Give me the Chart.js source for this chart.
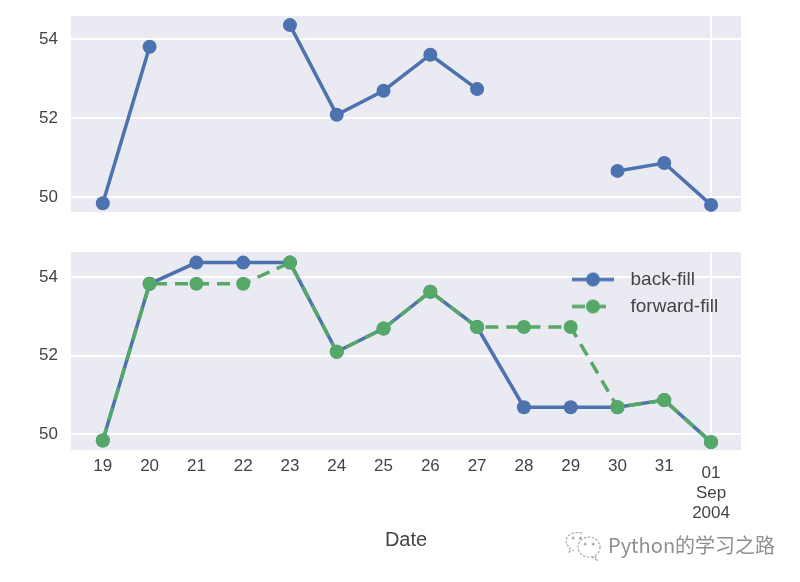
<!DOCTYPE html>
<html>
<head>
<meta charset="utf-8">
<script src="https://cdn.jsdelivr.net/npm/chart.js@4"></script>
<style>
html,body{margin:0;padding:0;background:#fff;width:800px;height:582px;overflow:hidden}
canvas{position:absolute;left:0;filter:blur(0.5px)}
#wm{position:absolute;left:608px;top:531px;font:20px "Noto Sans CJK SC","Noto Sans",sans-serif;color:#8f8f8f;line-height:27px;white-space:nowrap;filter:blur(0.4px)}
#ic{position:absolute;left:565px;top:529px;filter:blur(0.4px)}
</style>
</head>
<body>
<canvas id="top"></canvas>
<canvas id="bot"></canvas>
<svg id="ic" width="38" height="32" viewBox="0 0 38 32" fill="none" stroke="#a8a8a8" stroke-width="1.2" stroke-dasharray="2.5 1.5">
  <path d="M17 4C9 2 1 6 1 12c0 3 2 5 4 7l-1 4 5-2"/>
  <ellipse cx="24" cy="18" rx="11" ry="10"/>
  <path d="M30 27l2 4-5-3"/>
  <circle cx="20" cy="15" r="1" fill="#a8a8a8"/><circle cx="28" cy="15" r="1" fill="#a8a8a8"/>
  <circle cx="8" cy="9" r="1" fill="#a8a8a8"/><circle cx="15" cy="9" r="1" fill="#a8a8a8"/>
</svg>
<div id="wm">Python的学习之路</div>
<script>
const tickLabels = ['19','20','21','22','23','24','25','26','27','28','29','30','31',['01','Sep','2004']];
const observed = [49.84,53.8,null,null,54.35,52.08,52.69,53.6,52.73,null,null,50.66,50.86,49.8];
const backFill = [49.84,53.83,54.37,54.37,54.37,52.1,52.69,53.63,52.73,50.69,50.69,50.69,50.87,49.8];
const forwardFill = [49.84,53.83,53.83,53.83,54.37,52.1,52.69,53.63,52.73,52.73,52.73,50.69,50.87,49.8];
const yTicks = [50,52,54];
const xLabelName = 'Date';
const seriesNames = ['back-fill','forward-fill'];

const BLUE='#4C72B0', GREEN='#55A868', PANEL='#EAEAF2', TXT='#444444', FONT='"Liberation Sans",Arial,sans-serif';
const LAST = tickLabels.length-1;
const DASH=[13,8];
const pts = a => a.map((y,x)=>({x,y}));

function legendGlyph(color,dash){
  const c=document.createElement('canvas');c.width=46;c.height=16;
  const g=c.getContext('2d');g.strokeStyle=color;g.fillStyle=color;g.lineWidth=3.5;
  g.setLineDash(dash);g.beginPath();g.moveTo(1,8);g.lineTo(43,8);g.stroke();
  g.setLineDash([]);g.beginPath();g.arc(22,8,7,0,Math.PI*2);g.fill();
  return c;
}
const panel={id:'panel',beforeDraw(ch){const a=ch.chartArea,c=ch.ctx;c.save();c.fillStyle=PANEL;c.fillRect(a.left,a.top,a.width,a.height);c.restore();}};
const legendPlace={id:'legendPlace',afterLayout(ch){const l=ch.legend;if(l&&l.options.display){l.left=ch.chartArea.left+488;l.top=ch.chartArea.top+10;l.right=l.left+l.width;l.bottom=l.top+l.height;}}};

function ds(label,data,color,order,dash){
  return {label,data:pts(data),borderColor:color,backgroundColor:color,borderWidth:3.5,pointRadius:7,pointHoverRadius:7,pointBorderWidth:0,
    borderDash:dash||[],spanGaps:false,tension:0,order,clip:false,pointStyle:'circle'};
}
function scales(yMin,yMax,showX){
  return {
    x:{type:'linear',min:-0.68,max:13.64,
      afterBuildTicks(s){s.ticks=tickLabels.map((_,i)=>({value:i}));},
      afterFit(s){s.height=showX?132:0;},
      grid:{color:c=>c.index===LAST?'#fff':'rgba(0,0,0,0)',lineWidth:2,drawTicks:false},
      border:{display:false},
      title:{display:showX,text:xLabelName,color:TXT,font:{family:FONT,size:20},padding:{top:30,bottom:30}},
      ticks:{display:showX,autoSkip:false,maxRotation:0,minRotation:0,padding:13,color:TXT,
        callback:v=>tickLabels[v],
        font:c=>({family:FONT,size:17,lineHeight:c.index===LAST?'20px':'6px'})}
    },
    y:{min:yMin,max:yMax,
      afterBuildTicks(s){s.ticks=yTicks.map(v=>({value:v}));},
      afterFit(s){s.width=71;s.paddingTop=0;s.paddingBottom=0;},
      grid:{color:'#fff',lineWidth:2,drawTicks:false},
      border:{display:false},
      ticks:{padding:13,color:TXT,font:{family:FONT,size:17},callback:v=>String(v)}
    }
  };
}
function base(){return {responsive:false,animation:false,events:[],plugins:{tooltip:{enabled:false}}};}

const cTop=document.getElementById('top');cTop.width=800;cTop.height=232;cTop.style.top='0px';
new Chart(cTop,{type:'line',plugins:[panel],
  data:{datasets:[ds('observed',observed,BLUE,1)]},
  options:{...base(),layout:{autoPadding:false,padding:{left:0,right:59,top:16,bottom:20}},
    plugins:{legend:{display:false},tooltip:{enabled:false}},
    scales:scales(49.62,54.58,false)}});

const cBot=document.getElementById('bot');cBot.width=800;cBot.height=342;cBot.style.top='240px';
new Chart(cBot,{type:'line',plugins:[panel,legendPlace],
  data:{datasets:[ds(seriesNames[0],backFill,BLUE,2),ds(seriesNames[1],forwardFill,GREEN,1,DASH)]},
  options:{...base(),layout:{autoPadding:false,padding:{left:0,right:59,top:12,bottom:0}},
    plugins:{tooltip:{enabled:false},
      legend:{display:true,position:'chartArea',align:'start',
        labels:{usePointStyle:true,pointStyleWidth:54,boxHeight:16,padding:8,color:TXT,font:{family:FONT,size:19},
          generateLabels(){return [
            {text:seriesNames[0],pointStyle:legendGlyph(BLUE,[]),fontColor:TXT,lineWidth:0,strokeStyle:'transparent',fillStyle:'transparent'},
            {text:seriesNames[1],pointStyle:legendGlyph(GREEN,DASH),fontColor:TXT,lineWidth:0,strokeStyle:'transparent',fillStyle:'transparent'}
          ];}}}},
    scales:scales(49.6,54.64,true)}});
</script>
</body>
</html>
